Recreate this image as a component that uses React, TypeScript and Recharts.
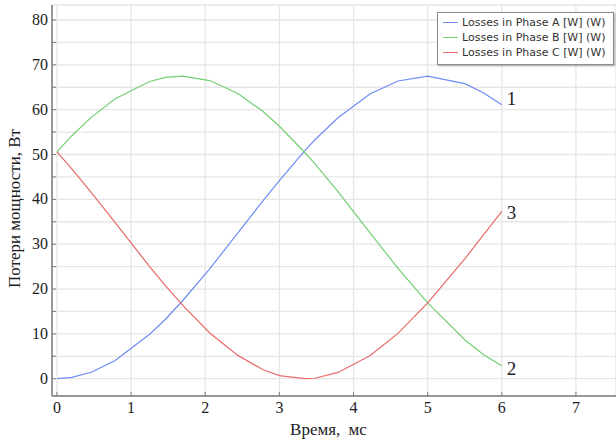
import { LineChart, Line, XAxis, YAxis, CartesianGrid, Legend } from 'recharts';

// ── Data ──────────────────────────────────────────────────────────────────────

const TIME_MS = [0, 0.2, 0.47, 0.78, 1.25, 1.46, 1.7, 2.06, 2.44, 2.78, 3.0, 3.34, 3.48, 3.79, 4.22, 4.6, 5.0, 5.5, 5.75, 6.0];
const PHASE_A = [0, 0.3, 1.5, 4.0, 9.9, 13.2, 17.5, 24.5, 32.5, 39.7, 44.2, 50.8, 53.3, 58.2, 63.5, 66.4, 67.5, 65.8, 63.8, 61.1];
const PHASE_B = [50.6, 54.2, 58.4, 62.4, 66.3, 67.2, 67.5, 66.5, 63.6, 59.6, 56.3, 50.5, 47.9, 41.7, 32.6, 24.6, 16.9, 8.7, 5.4, 2.9];
const PHASE_C = [50.6, 46.8, 41.4, 34.9, 25.0, 20.8, 16.3, 10.2, 5.2, 2.0, 0.7, 0.0, 0.1, 1.4, 5.1, 10.1, 16.9, 26.7, 32.0, 37.3];

const SERIES_NAMES = ['Losses in Phase A [W] (W)', 'Losses in Phase B [W] (W)', 'Losses in Phase C [W] (W)'];
const END_LABELS = ['1', '2', '3'];

const X_TICKS = [0, 1, 2, 3, 4, 5, 6, 7];
const Y_TICKS = [0, 5, 10, 15, 20, 25, 30, 35, 40, 45, 50, 55, 60, 65, 70, 75, 80];

const X_LABEL = 'Время, мс';
const Y_LABEL = 'Потери мощности, Вт';

// ── Styling ───────────────────────────────────────────────────────────────────

const COLORS = ['#6f8cf6', '#72cf72', '#e96a6a'];
const END_LABEL_DY = [0, 9, 8];
const AXIS = '#7d7d7d';
const GRID = '#e6e6e6';
const SERIF = '"Liberation Serif", "Times New Roman", serif';
const TEXT = '#1c1c24';

const data = TIME_MS.map((t, i) => ({ t, a: PHASE_A[i], b: PHASE_B[i], c: PHASE_C[i] }));
const KEYS = ['a', 'b', 'c'];

function YTick({ x, y, payload }: any) {
  if (payload.value % 10 !== 0) return <g />;
  return (
    <text x={x} y={y} dy={5} textAnchor="end" fontFamily={SERIF} fontSize={16} fill={TEXT}>
      {payload.value}
    </text>
  );
}

function XTick({ x, y, payload }: any) {
  return (
    <text x={x} y={y} dy={13} textAnchor="middle" fontFamily={SERIF} fontSize={16} fill={TEXT}>
      {payload.value}
    </text>
  );
}

function LegendBox({ payload }: any) {
  return (
    <div
      style={{
        border: '1px solid #8c8c8c',
        background: '#fff',
        boxShadow: '1px 1px 2px rgba(0,0,0,0.35)',
        padding: '2px 6px 4px 5px',
        fontFamily: '"DejaVu Sans", sans-serif',
        fontSize: 11,
        color: '#333',
      }}
    >
      {(payload ?? []).map((e: any) => (
        <div key={e.value} style={{ display: 'flex', alignItems: 'center', height: 15, whiteSpace: 'nowrap' }}>
          <span style={{ display: 'inline-block', width: 15, height: 0, borderTop: `1.5px solid ${e.color}`, marginRight: 4 }} />
          {e.value}
        </div>
      ))}
    </div>
  );
}

function endLabel(idx: number) {
  return (p: any) => {
    if (p.index !== TIME_MS.length - 1) return <g />;
    return (
      <text x={p.x + 5} y={p.y + END_LABEL_DY[idx]} fontFamily={SERIF} fontSize={19} fill={TEXT}>
        {END_LABELS[idx]}
      </text>
    );
  };
}

export default function App() {
  return (
    <div style={{ position: 'absolute', left: 0, top: 0, width: 616, height: 444, background: '#fff', overflow: 'hidden' }}>
      <LineChart width={616} height={444} data={data} margin={{ top: 5, right: 0, bottom: 0, left: 0 }}>
        <CartesianGrid stroke={GRID} strokeWidth={1.3} />
        <XAxis
          dataKey="t"
          type="number"
          domain={[-0.067, 7.54]}
          ticks={X_TICKS}
          allowDataOverflow
          height={48}
          axisLine={{ stroke: AXIS, strokeWidth: 1.5 }}
          tickLine={{ stroke: AXIS, strokeWidth: 1 }}
          tickSize={-4}
          tickMargin={8}
          tick={<XTick />}
          interval={0}
          label={{
            content: ({ viewBox }: any) => (
              <text
                x={viewBox.x + viewBox.width / 2 - 5.5}
                y={viewBox.y + 39}
                textAnchor="middle"
                fontFamily={SERIF}
                fontSize={17}
                wordSpacing={4}
                fill={TEXT}
              >
                {X_LABEL}
              </text>
            ),
          }}
        />
        <XAxis
          xAxisId="top"
          dataKey="t"
          type="number"
          orientation="top"
          domain={[-0.067, 7.54]}
          ticks={X_TICKS}
          allowDataOverflow
          height={0}
          axisLine={{ stroke: AXIS, strokeWidth: 1.5 }}
          tickLine={{ stroke: AXIS, strokeWidth: 1 }}
          tickSize={-4}
          tick={false}
          interval={0}
        />
        <YAxis
          type="number"
          domain={[-3.86, 83.35]}
          ticks={Y_TICKS}
          allowDataOverflow
          width={52}
          interval={0}
          axisLine={{ stroke: AXIS, strokeWidth: 1.5 }}
          tickLine={{ stroke: AXIS, strokeWidth: 1 }}
          tickSize={-4}
          tickMargin={8}
          tick={<YTick />}
          label={{
            content: ({ viewBox }: any) => {
              const cx = viewBox.x + 19.5;
              const cy = viewBox.y + 203.5;
              return (
                <text
                  x={cx}
                  y={cy}
                  transform={`rotate(-90 ${cx} ${cy})`}
                  textAnchor="middle"
                  fontFamily={SERIF}
                  fontSize={17}
                  fill={TEXT}
                >
                  {Y_LABEL}
                </text>
              );
            },
          }}
        />
        <Legend
          layout="vertical"
          align="center"
          verticalAlign="middle"
          wrapperStyle={{ left: 437, top: 12, width: 177 }}
          content={<LegendBox />}
        />
        {KEYS.map((k, i) => (
          <Line
            key={k}
            dataKey={k}
            name={SERIES_NAMES[i]}
            type="linear"
            stroke={COLORS[i]}
            strokeWidth={1.2}
            dot={false}
            activeDot={false}
            isAnimationActive={false}
            label={endLabel(i)}
          />
        ))}
      </LineChart>
    </div>
  );
}
